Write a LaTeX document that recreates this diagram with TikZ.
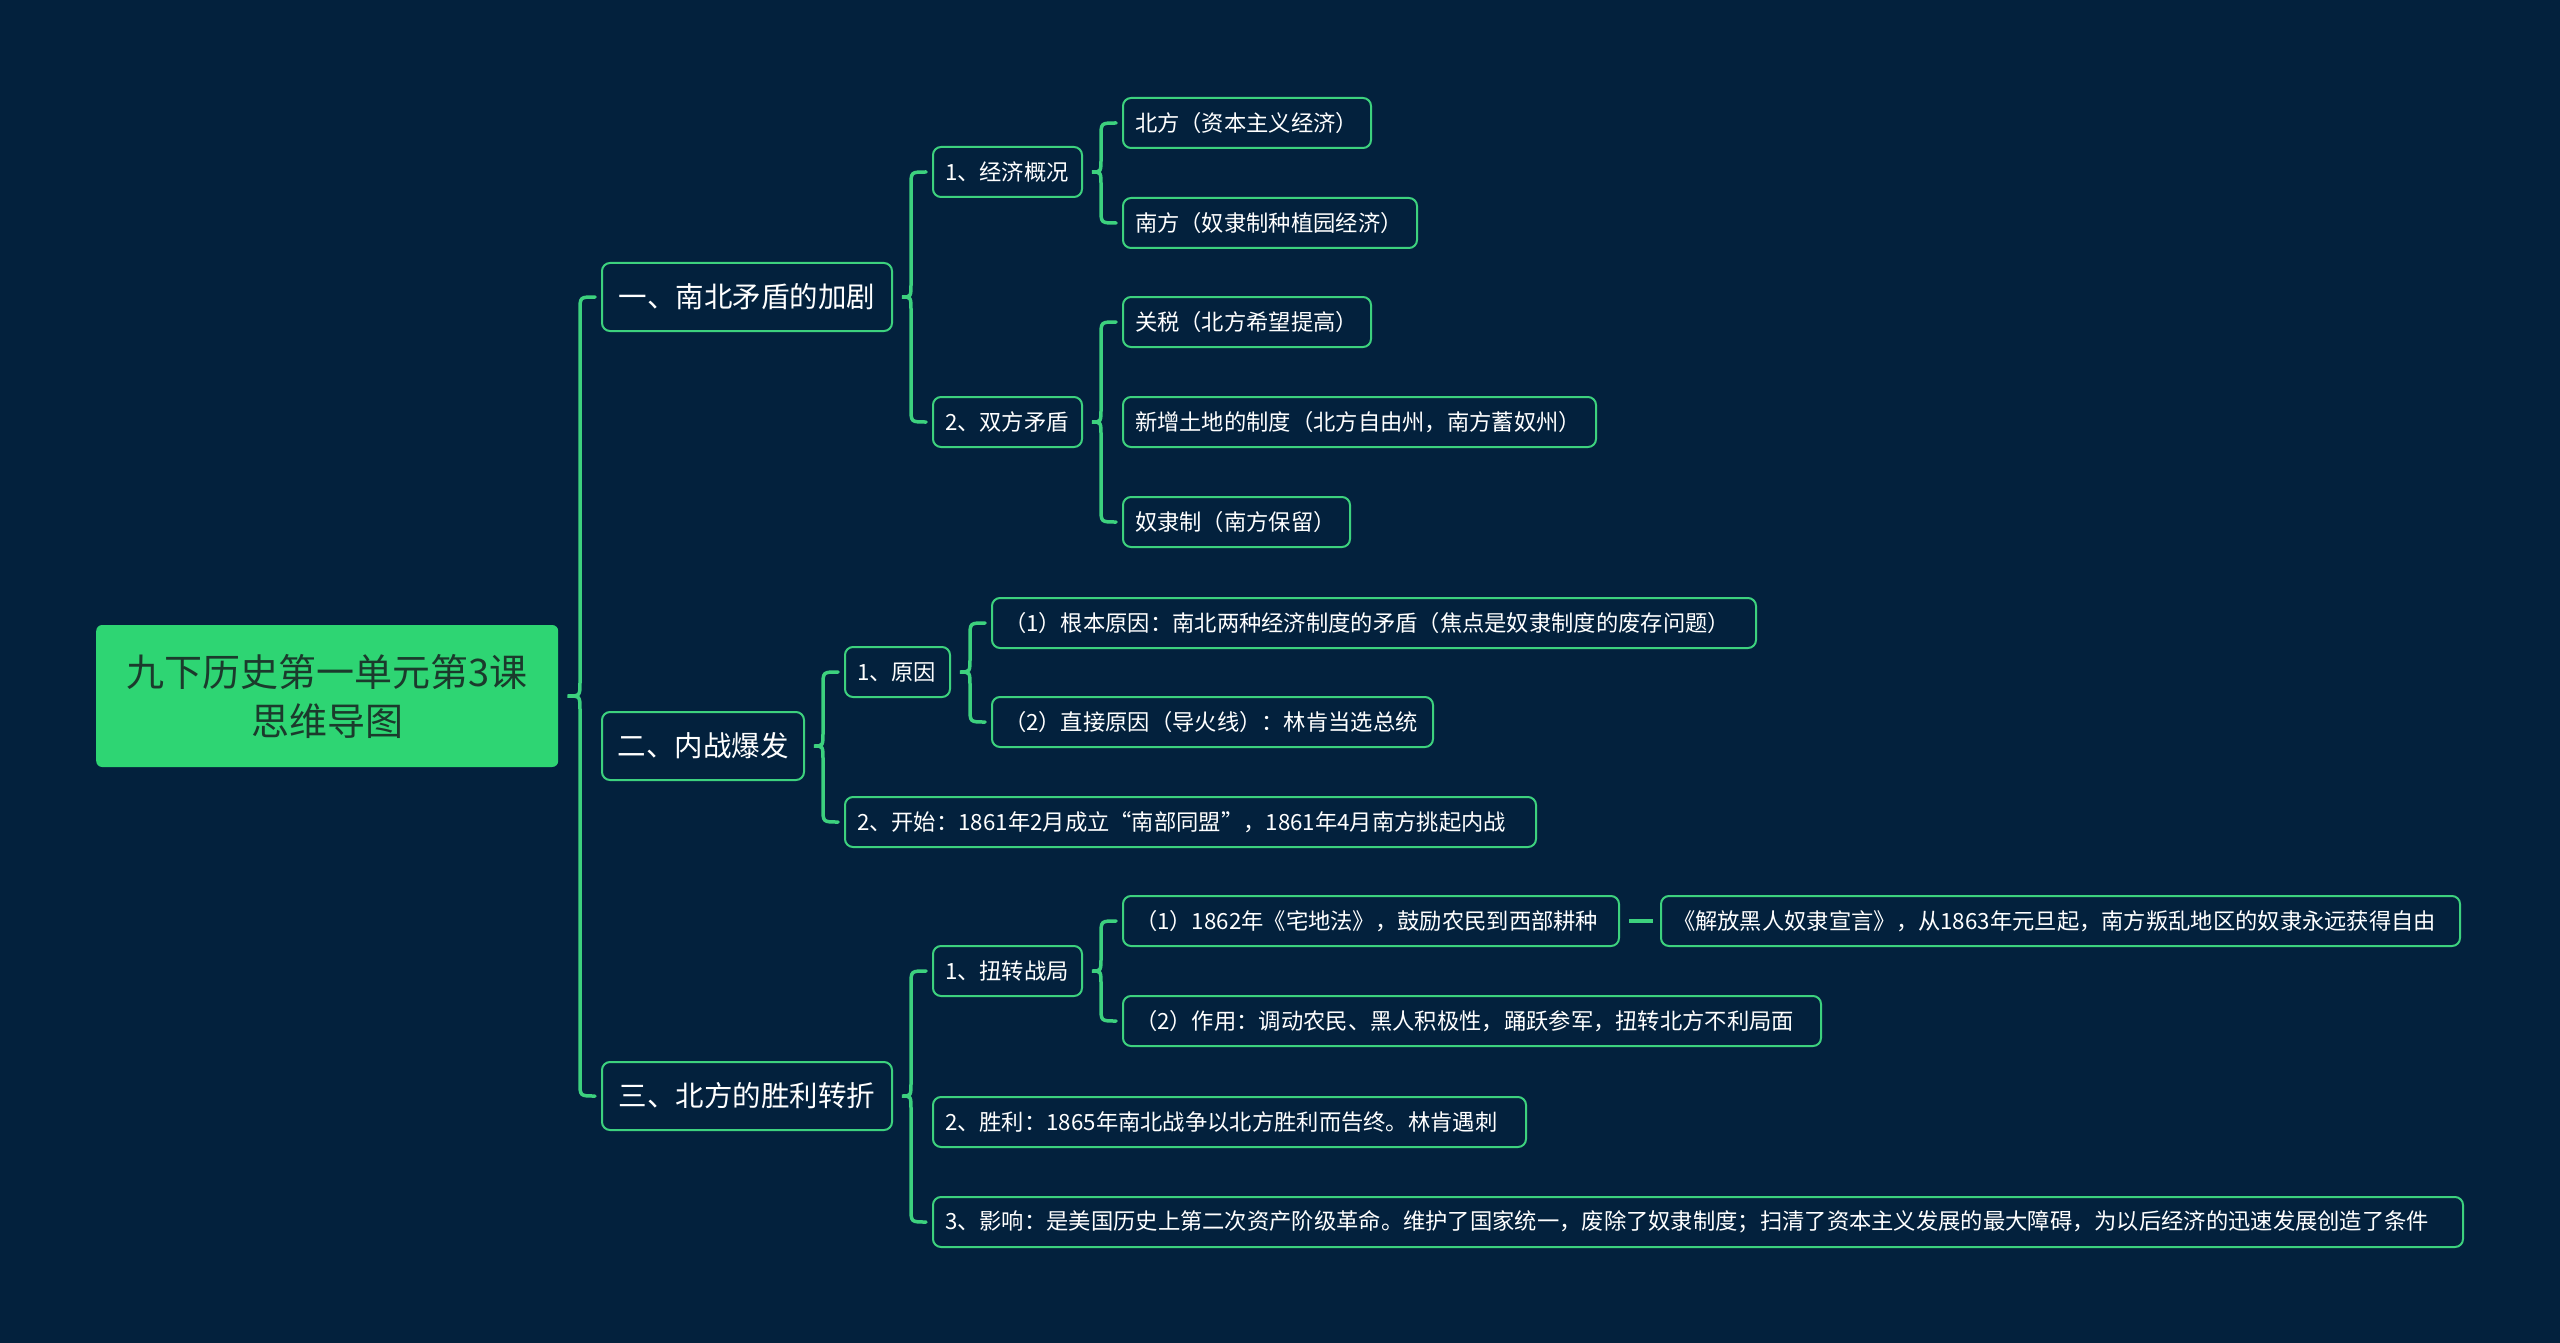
\documentclass[tikz,border=0pt]{standalone}
\usepackage{fontspec}
\setmainfont{Noto Sans CJK SC}
\usetikzlibrary{calc}
\definecolor{bg}{HTML}{03213D}
\definecolor{lineg}{HTML}{3DD17E}
\definecolor{rootg}{HTML}{2ED573}
\definecolor{roottext}{HTML}{1B3A2C}
\tikzset{
  box/.style={draw=lineg, line width=2pt, fill=bg, rounded corners=8pt, text=white,
    font=\fontsize{22.3}{26}\selectfont, minimum height=50pt, inner xsep=12pt, inner ysep=0pt, anchor=west},
  lvone/.style={box, font=\fontsize{28.5}{34}\selectfont, minimum height=68pt, inner xsep=10pt},
  rootbox/.style={fill=rootg, rounded corners=6pt, text=roottext, align=center,
    font=\fontsize{38}{49}\selectfont, minimum height=142pt, anchor=west},
  conn/.style={draw=lineg, line width=3.5pt, line cap=round}
}
\newcommand\bx[2]{\makebox[\dimexpr#1pt-24pt\relax][l]{#2}}
\newcommand\mmbrace[3]{%
  \coordinate (bp) at ($(#1.east)+(9,0)$);
  \coordinate (bv) at ($(#2.west)+(-21,0)$);
  \draw[conn] ($(#2.west)+(-6,0)$) .. controls (bv |- #2.west) .. ($(bv |- #2.west)+(0,14)$)
    -- ($(bv |- bp)+(0,-14)$) .. controls (bv |- bp) .. (bp)
    .. controls (bv |- bp) .. ($(bv |- bp)+(0,14)$)
    -- ($(bv |- #3.west)+(0,-14)$) .. controls (bv |- #3.west) .. ($(#3.west)+(-6,0)$);
}
\begin{document}
\begin{tikzpicture}[x=1pt,y=-1pt]
\useasboundingbox[fill=bg] (0,0) rectangle (2560,1343);

\node[rootbox, minimum width=462] (root) at (96,696) {九下历史第一单元第3课\\思维导图};

\node[lvone, minimum width=290] (n1) at (601,297) {一、南北矛盾的加剧};
\node[lvone, minimum width=202] (n2) at (601,746) {二、内战爆发};
\node[lvone, minimum width=290] (n3) at (601,1096) {三、北方的胜利转折};

\node[box] (n11) at (932,172) {\bx{149}{1、经济概况}};
\node[box] (n12) at (932,422) {\bx{149}{2、双方矛盾}};
\node[box] (n111) at (1122,123) {\bx{248}{北方（资本主义经济）}};
\node[box] (n112) at (1122,223) {\bx{294}{南方（奴隶制种植园经济）}};
\node[box] (n121) at (1122,322) {\bx{248}{关税（北方希望提高）}};
\node[box] (n122) at (1122,422) {\bx{473}{新增土地的制度（北方自由州，南方蓄奴州）}};
\node[box] (n123) at (1122,522) {\bx{227}{奴隶制（南方保留）}};

\node[box] (n21) at (844,672) {\bx{105}{1、原因}};
\node[box] (n22) at (844,822) {\bx{691}{2、开始：1861年2月成立“南部同盟”，1861年4月南方挑起内战}};
\node[box] (n211) at (991,623) {\bx{764}{（1）根本原因：南北两种经济制度的矛盾（焦点是奴隶制度的废存问题）}};
\node[box] (n212) at (991,722) {\bx{441}{（2）直接原因（导火线）：林肯当选总统}};

\node[box] (n31) at (932,971) {\bx{149}{1、扭转战局}};
\node[box] (n32) at (932,1122) {\bx{593}{2、胜利：1865年南北战争以北方胜利而告终。林肯遇刺}};
\node[box] (n33) at (932,1222) {\bx{1530}{3、影响：是美国历史上第二次资产阶级革命。维护了国家统一，废除了奴隶制度；扫清了资本主义发展的最大障碍，为以后经济的迅速发展创造了条件}};
\node[box] (n311) at (1122,921) {\bx{496}{（1）1862年《宅地法》，鼓励农民到西部耕种}};
\node[box] (n312) at (1122,1021) {\bx{698}{（2）作用：调动农民、黑人积极性，踊跃参军，扭转北方不利局面}};
\node[box] (n3111) at (1660,921) {\bx{799}{《解放黑人奴隶宣言》，从1863年元旦起，南方叛乱地区的奴隶永远获得自由}};

\mmbrace{root}{n1}{n3}
\mmbrace{n1}{n11}{n12}
\mmbrace{n11}{n111}{n112}
\mmbrace{n12}{n121}{n123}
\mmbrace{n2}{n21}{n22}
\mmbrace{n21}{n211}{n212}
\mmbrace{n3}{n31}{n33}
\mmbrace{n31}{n311}{n312}
\draw[conn, line cap=butt] ($(n311.east)+(9,0)$) -- ($(n3111.west)+(-7,0)$);
\end{tikzpicture}
\end{document}
